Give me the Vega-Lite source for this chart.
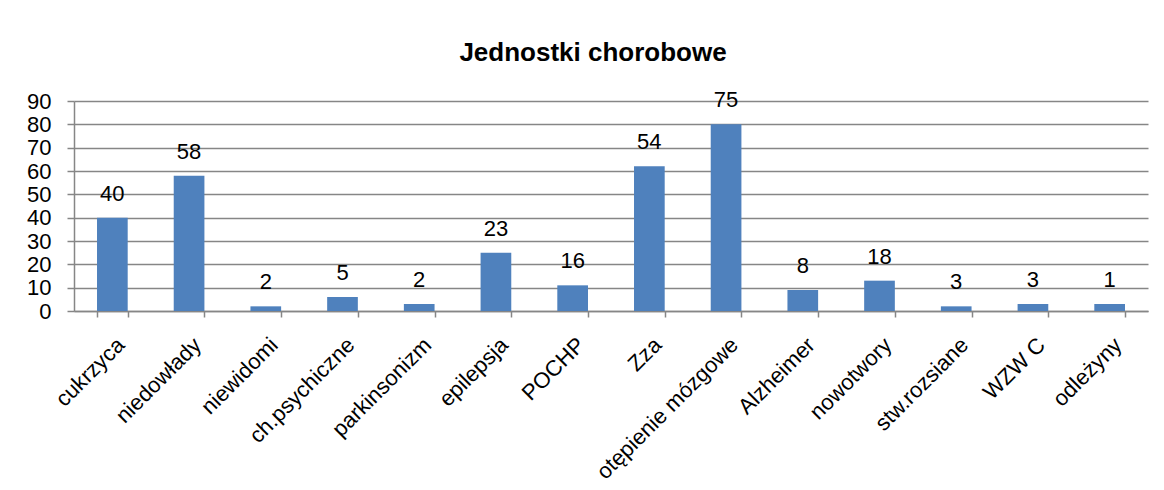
{
  "$schema": "https://vega.github.io/schema/vega-lite/v6.json",
  "width": 1074,
  "height": 210,
  "autosize": {"type": "none"},
  "padding": {"left": 74, "top": 101, "right": 16, "bottom": 179},
  "background": "white",
  "title": {
    "text": "Jednostki chorobowe",
    "font": "Liberation Sans",
    "fontSize": 26,
    "fontWeight": "bold",
    "color": "black",
    "anchor": "middle",
    "baseline": "alphabetic",
    "offset": 2,
    "dx": -18
  },
  "config": {
    "view": {"stroke": null},
    "font": "Liberation Sans"
  },
  "data": {
    "values": [
      {"choroba": "cukrzyca", "wartosc": 40, "etykieta": "40"},
      {"choroba": "niedowłady", "wartosc": 58, "etykieta": "58"},
      {"choroba": "niewidomi", "wartosc": 2, "etykieta": "2"},
      {"choroba": "ch.psychiczne", "wartosc": 6, "etykieta": "5"},
      {"choroba": "parkinsonizm", "wartosc": 3, "etykieta": "2"},
      {"choroba": "epilepsja", "wartosc": 25, "etykieta": "23"},
      {"choroba": "POCHP", "wartosc": 11, "etykieta": "16"},
      {"choroba": "Zza", "wartosc": 62, "etykieta": "54"},
      {"choroba": "otępienie mózgowe", "wartosc": 80, "etykieta": "75"},
      {"choroba": "Alzheimer", "wartosc": 9, "etykieta": "8"},
      {"choroba": "nowotwory", "wartosc": 13, "etykieta": "18"},
      {"choroba": "stw.rozsiane", "wartosc": 2, "etykieta": "3"},
      {"choroba": "WZW C", "wartosc": 3, "etykieta": "3"},
      {"choroba": "odleżyny", "wartosc": 3, "etykieta": "1"}
    ]
  },
  "encoding": {
    "x": {
      "field": "choroba",
      "type": "nominal",
      "sort": null,
      "scale": {"paddingInner": 0.6, "paddingOuter": 0.3},
      "axis": {
        "title": null,
        "labelAngle": -45,
        "labelAlign": "right",
        "labelBaseline": "middle",
        "labelFontSize": 22,
        "labelColor": "black",
        "labelPadding": 24,
        "labelOffset": 8,
        "labelLimit": 400,
        "tickSize": 6,
        "tickBand": "extent",
        "tickColor": "#868686",
        "tickWidth": 1.5,
        "domainColor": "#868686",
        "domainWidth": 1.5,
        "grid": false
      }
    },
    "y": {
      "field": "wartosc",
      "type": "quantitative",
      "scale": {"domain": [0, 90], "nice": false},
      "axis": {
        "title": null,
        "values": [0, 10, 20, 30, 40, 50, 60, 70, 80, 90],
        "labelFontSize": 22,
        "labelColor": "black",
        "labelPadding": 16,
        "labelOverlap": false,
        "labelBound": false,
        "tickSize": 7,
        "tickColor": "#868686",
        "tickWidth": 1.5,
        "domainColor": "#868686",
        "domainWidth": 1.5,
        "grid": true,
        "gridColor": "#868686",
        "gridWidth": 1.5
      }
    }
  },
  "layer": [
    {
      "mark": {"type": "bar", "color": "#4F81BD"}
    },
    {
      "mark": {"type": "text", "dy": -17, "baseline": "alphabetic", "fontSize": 22, "color": "black"},
      "encoding": {
        "text": {"field": "etykieta"}
      }
    }
  ]
}
